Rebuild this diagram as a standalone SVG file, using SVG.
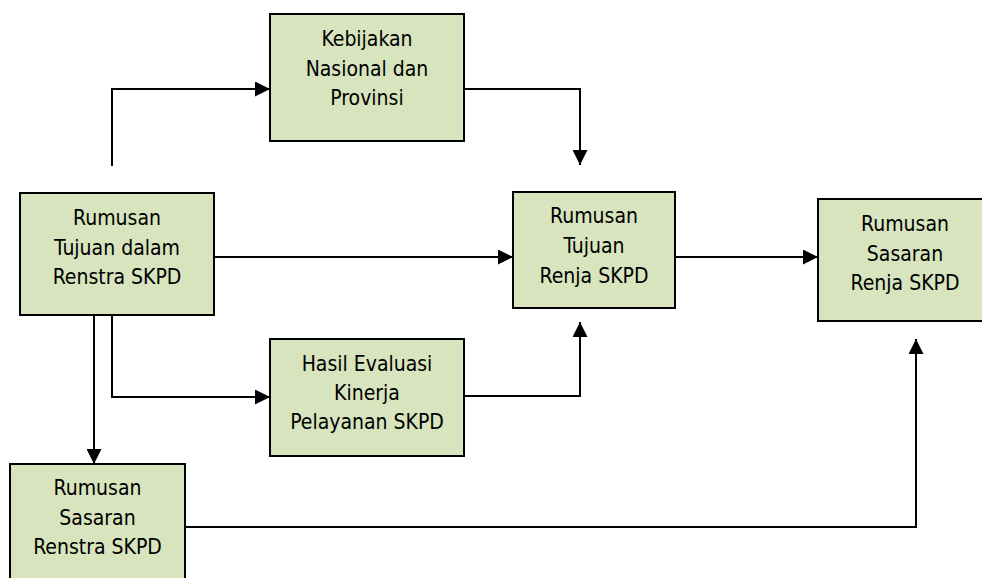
<svg xmlns="http://www.w3.org/2000/svg" width="982" height="578" viewBox="0 0 982 578">
<style>
.box{fill:#D7E4BD;stroke:#000;stroke-width:2}
.t{font-family:"DejaVu Sans Condensed","DejaVu Sans",sans-serif;font-size:21px;fill:#000;text-anchor:middle}
.c{fill:none;stroke:#000;stroke-width:2}
</style>
<defs>
<marker id="ah" markerWidth="15" markerHeight="15" refX="15" refY="7.5" orient="auto" markerUnits="userSpaceOnUse">
<path d="M0,0 L15,7.5 L0,15 Z" fill="#000"/>
</marker>
</defs>
<rect width="982" height="578" fill="#fff"/>
<g id="connectors">
<path class="c" d="M112,166 V89 H270" marker-end="url(#ah)"/>
<path class="c" d="M464,89 H580 V165" marker-end="url(#ah)"/>
<path class="c" d="M214,257 H513" marker-end="url(#ah)"/>
<path class="c" d="M675,257 H818" marker-end="url(#ah)"/>
<path class="c" d="M94,315 V464" marker-end="url(#ah)"/>
<path class="c" d="M112,315 V397 H270" marker-end="url(#ah)"/>
<path class="c" d="M464,396 H580 V322" marker-end="url(#ah)"/>
<path class="c" d="M185,527 H916 V339" marker-end="url(#ah)"/>
</g>
<g id="kebijakan">
<rect class="box" x="270" y="14" width="194" height="127"/>
<text class="t" x="367" y="46">Kebijakan</text>
<text class="t" x="367" y="75.5">Nasional dan</text>
<text class="t" x="367" y="105">Provinsi</text>
</g>
<g id="tujuan-renstra">
<rect class="box" x="20" y="193" width="194" height="122"/>
<text class="t" x="117" y="225">Rumusan</text>
<text class="t" x="117" y="255">Tujuan dalam</text>
<text class="t" x="117" y="284">Renstra SKPD</text>
</g>
<g id="tujuan-renja">
<rect class="box" x="513" y="192" width="162" height="116"/>
<text class="t" x="594" y="223">Rumusan</text>
<text class="t" x="594" y="253">Tujuan</text>
<text class="t" x="594" y="283">Renja SKPD</text>
</g>
<g id="sasaran-renja">
<rect class="box" x="818" y="199" width="176" height="122"/>
<text class="t" x="905" y="231">Rumusan</text>
<text class="t" x="905" y="261">Sasaran</text>
<text class="t" x="905" y="290">Renja SKPD</text>
</g>
<g id="hasil-evaluasi">
<rect class="box" x="270" y="339" width="194" height="117"/>
<text class="t" x="367" y="371">Hasil Evaluasi</text>
<text class="t" x="367" y="400">Kinerja</text>
<text class="t" x="367" y="429">Pelayanan SKPD</text>
</g>
<g id="sasaran-renstra">
<rect class="box" x="10" y="464" width="175" height="124"/>
<text class="t" x="97.5" y="495">Rumusan</text>
<text class="t" x="97.5" y="525">Sasaran</text>
<text class="t" x="97.5" y="554">Renstra SKPD</text>
</g>
</svg>
